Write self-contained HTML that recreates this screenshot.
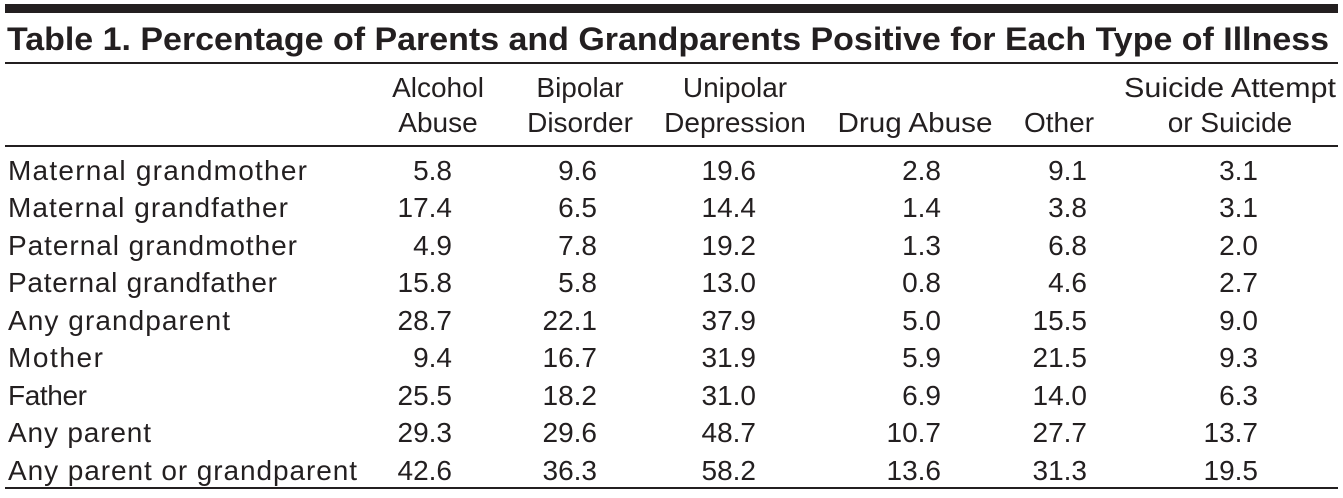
<!DOCTYPE html>
<html><head><meta charset="utf-8"><style>
html,body{margin:0;padding:0;background:#fff;}
svg{display:block;}
text{font-family:"Liberation Sans",sans-serif;fill:#231f20;}
</style></head><body>
<svg width="1343" height="498" viewBox="0 0 1343 498">
<rect x="5" y="4" width="1333" height="9" fill="#231f20"/>
<text x="7" y="50" font-size="32" font-weight="bold" textLength="1322" lengthAdjust="spacingAndGlyphs">Table 1. Percentage of Parents and Grandparents Positive for Each Type of Illness</text>
<rect x="5" y="62" width="1333" height="2" fill="#231f20"/>
<g font-size="28" text-anchor="middle">
<text x="438" y="97">Alcohol</text><text x="438" y="132">Abuse</text>
<text x="580" y="97">Bipolar</text><text x="580" y="132">Disorder</text>
<text x="735" y="97">Unipolar</text><text x="735" y="132">Depression</text>
<text x="915" y="132" textLength="155" lengthAdjust="spacingAndGlyphs">Drug Abuse</text>
<text x="1059" y="132">Other</text>
<text x="1230" y="97" textLength="212" lengthAdjust="spacingAndGlyphs">Suicide Attempt</text><text x="1230" y="132">or Suicide</text>
</g>
<rect x="5" y="145" width="1333" height="2" fill="#231f20"/>
<g font-size="28" lengthAdjust="spacingAndGlyphs">
<text x="8" y="180" textLength="299">Maternal grandmother</text>
<text x="8" y="217" textLength="280">Maternal grandfather</text>
<text x="8" y="255" textLength="289">Paternal grandmother</text>
<text x="8" y="292" textLength="269">Paternal grandfather</text>
<text x="8" y="330" textLength="222">Any grandparent</text>
<text x="8" y="367" textLength="95">Mother</text>
<text x="8" y="405" textLength="79">Father</text>
<text x="8" y="442" textLength="143">Any parent</text>
<text x="8" y="480" textLength="349">Any parent or grandparent</text>
</g>
<g font-size="28" text-anchor="end">
<g transform="translate(452,0)">
<text y="180">5.8</text><text y="217">17.4</text><text y="255">4.9</text><text y="292">15.8</text><text y="330">28.7</text><text y="367">9.4</text><text y="405">25.5</text><text y="442">29.3</text><text y="480">42.6</text></g>
<g transform="translate(597,0)">
<text y="180">9.6</text><text y="217">6.5</text><text y="255">7.8</text><text y="292">5.8</text><text y="330">22.1</text><text y="367">16.7</text><text y="405">18.2</text><text y="442">29.6</text><text y="480">36.3</text></g>
<g transform="translate(756,0)">
<text y="180">19.6</text><text y="217">14.4</text><text y="255">19.2</text><text y="292">13.0</text><text y="330">37.9</text><text y="367">31.9</text><text y="405">31.0</text><text y="442">48.7</text><text y="480">58.2</text></g>
<g transform="translate(941,0)">
<text y="180">2.8</text><text y="217">1.4</text><text y="255">1.3</text><text y="292">0.8</text><text y="330">5.0</text><text y="367">5.9</text><text y="405">6.9</text><text y="442">10.7</text><text y="480">13.6</text></g>
<g transform="translate(1087,0)">
<text y="180">9.1</text><text y="217">3.8</text><text y="255">6.8</text><text y="292">4.6</text><text y="330">15.5</text><text y="367">21.5</text><text y="405">14.0</text><text y="442">27.7</text><text y="480">31.3</text></g>
<g transform="translate(1258,0)">
<text y="180">3.1</text><text y="217">3.1</text><text y="255">2.0</text><text y="292">2.7</text><text y="330">9.0</text><text y="367">9.3</text><text y="405">6.3</text><text y="442">13.7</text><text y="480">19.5</text></g>
</g>
<rect x="5" y="487" width="1333" height="2" fill="#231f20"/>
</svg>
</body></html>
